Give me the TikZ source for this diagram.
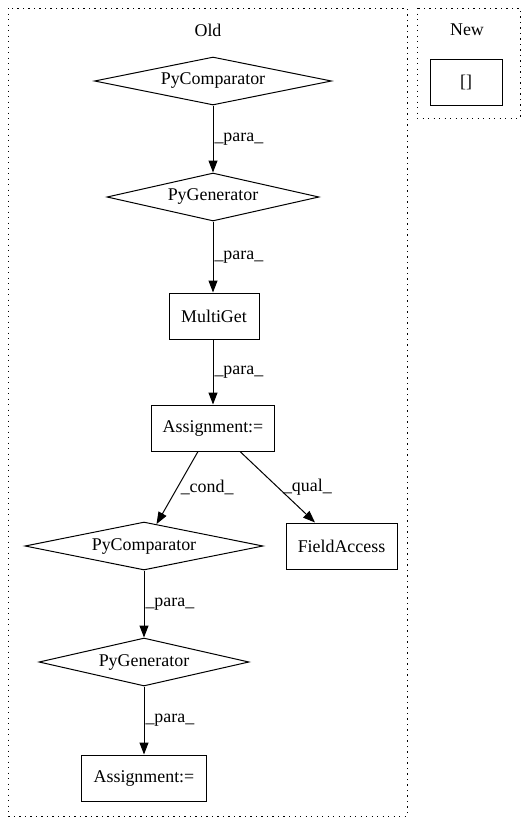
\documentclass[tikz,border=0pt]{standalone}
\usepackage{fontspec}
\setmainfont{Liberation Serif}
\usetikzlibrary{shapes.geometric,arrows.meta}
\begin{document}
\begin{tikzpicture}[x=1pt,y=-1pt,
  every node/.style={font=\fontsize{17.9}{20}\selectfont},
  rbox/.style={draw,rectangle,inner sep=0pt,line width=1pt,minimum height=46pt},
  dia/.style={draw,diamond,aspect=5,inner sep=0pt,line width=1pt,minimum height=48pt},
  cl/.style={draw,line width=1pt,dash pattern=on 1.3pt off 4.2pt},
  arr/.style={-{Triangle[length=12pt,width=9pt]},line width=1pt},
  lab/.style={font=\fontsize{17.9}{20}\selectfont,inner sep=1pt}]
\useasboundingbox (0,0) rectangle (528,828);
\draw[cl] (8,8) rectangle (407,816);
\node (old) at (208,30) {Old};
\draw[cl] (417,8) rectangle (520,118);
\node (new) at (467,30) {New};
\node[rbox,minimum width=72pt] (br) at (466,82) {[]};

\node[dia,minimum width=237pt] (pc1) at (213,81) {PyComparator};
\node[dia,minimum width=212pt] (pg1) at (213,197) {PyGenerator};
\node[rbox,minimum width=90pt] (mg) at (214,316) {MultiGet};
\node[rbox,minimum width=123pt] (as1) at (213,428) {Assignment:=};
\node[dia,minimum width=238pt] (pc2) at (144,546) {PyComparator};
\node[rbox,minimum width=111pt] (fa) at (341.5,546) {FieldAccess};
\node[dia,minimum width=210pt] (pg2) at (144,662) {PyGenerator};
\node[rbox,minimum width=125pt] (as2) at (144,778) {Assignment:=};

\draw[arr] (pc1) -- node[lab,right] {\_para\_} (pg1);
\draw[arr] (pg1) -- node[lab,right] {\_para\_} (pg1 |- mg.north);
\draw[arr] (pg1 |- mg.south) -- node[lab,right] {\_para\_} (pg1 |- as1.north);
\draw[arr] (as1.south -| 198,0) -- node[lab,right,pos=0.5,xshift=2pt] {\_cond\_} (pc2);
\draw[arr] (as1.south -| 240,0) -- node[lab,right,pos=0.5,xshift=4pt] {\_qual\_} (fa.north -| 315,0);
\draw[arr] (pc2) -- node[lab,right] {\_para\_} (pg2);
\draw[arr] (pg2) -- node[lab,right] {\_para\_} (as2);
\end{tikzpicture}
\end{document}
